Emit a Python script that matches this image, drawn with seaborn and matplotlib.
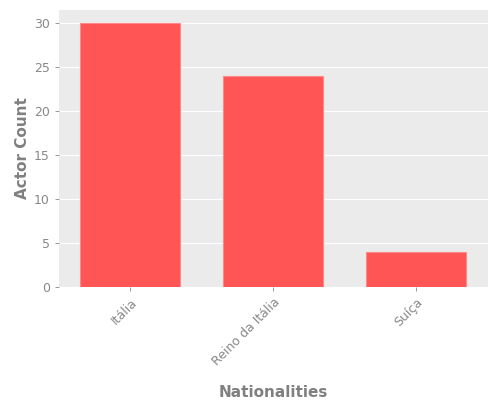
import matplotlib
matplotlib.use("Agg")
import matplotlib.pyplot as plt
import seaborn as sns
import pandas as pd

# data
nationalities = ["Itália", "Reino da Itália", "Suíça"]
actor_counts = [30, 24, 4]

df = pd.DataFrame({"Nationalities": nationalities, "Actor Count": actor_counts})

sns.set_theme(style="darkgrid", rc={
    "axes.facecolor": "#EBEBEB",
    "grid.color": "white",
    "grid.linewidth": 0.8,
    "axes.edgecolor": "#EBEBEB",
    "xtick.color": "#888888",
    "ytick.color": "#888888",
    "xtick.bottom": True,
    "ytick.left": True,
})
plt.rcParams["font.family"] = ["DejaVu Sans"]

fig, ax = plt.subplots(figsize=(5, 4), dpi=100)
sns.barplot(data=df, x="Nationalities", y="Actor Count", color="#FF5555",
            saturation=1, width=0.7, edgecolor="#FF8888", linewidth=0.8, ax=ax)

ax.xaxis.grid(False)
ax.set_ylim(0, 31.5)
ax.set_yticks([0, 5, 10, 15, 20, 25, 30])
for s in ax.spines.values():
    s.set_visible(False)

ax.tick_params(axis="both", labelsize=9, labelcolor="#888888", length=3, width=0.6)
plt.setp(ax.get_xticklabels(), rotation=45, ha="right", rotation_mode="anchor")
ax.set_xlabel("Nationalities", fontsize=11, fontweight="bold", color="#808080", labelpad=12)
ax.set_ylabel("Actor Count", fontsize=11, fontweight="bold", color="#808080", labelpad=3)

plt.subplots_adjust(left=0.118, right=0.975, top=0.975, bottom=0.283)
fig.savefig("out.png", dpi=100)
